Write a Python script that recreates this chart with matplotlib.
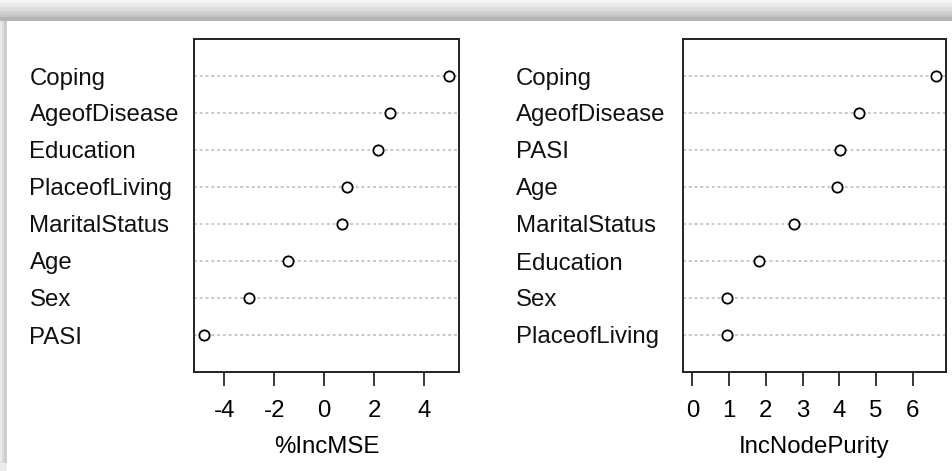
import matplotlib
matplotlib.use("Agg")
import matplotlib.pyplot as plt
from matplotlib.patches import Rectangle
from matplotlib.transforms import blended_transform_factory

# ---- data (top to bottom as shown) ----
mse_vars = ["Coping", "AgeofDisease", "Education", "PlaceofLiving",
            "MaritalStatus", "Age", "Sex", "PASI"]
mse_vals = [5.0, 2.64, 2.17, 0.92, 0.72, -1.45, -3.02, -4.82]
mse_ticks = [-4, -2, 0, 2, 4]
mse_xlabel = "%IncMSE"

purity_vars = ["Coping", "AgeofDisease", "PASI", "Age",
               "MaritalStatus", "Education", "Sex", "PlaceofLiving"]
purity_vals = [6.64, 4.53, 4.02, 3.95, 2.76, 1.82, 0.95, 0.95]
purity_ticks = [0, 1, 2, 3, 4, 5, 6]
purity_xlabel = "IncNodePurity"

W, H = 953, 471
plt.rcParams["font.family"] = ["Liberation Sans", "DejaVu Sans"]
FS = 17.3

fig = plt.figure(figsize=(W / 100, H / 100), dpi=100)
fig.patch.set_facecolor("white")

# ---- screenshot-style shadow frame ----
top_bands = [(0, 3, "#f4f4f4"), (3, 7, "#e9e9e9"), (7, 11, "#dddddd"),
             (11, 14, "#d1d1d1"), (14, 17, "#c6c6c6"), (17, 21, "#b4b4b4")]
for y0, y1, c in top_bands:
    fig.patches.append(Rectangle((0, 1 - y1 / H), 1, (y1 - y0) / H,
                                 transform=fig.transFigure, color=c, lw=0, zorder=0))
left_bands = [(0, 2, "#e8e8e8"), (2, 4, "#dcdcdc"), (4, 7, "#cdcdcd")]
for x0, x1, c in left_bands:
    fig.patches.append(Rectangle((x0 / W, 8 / H), (x1 - x0) / W, (H - 21 - 8) / H,
                                 transform=fig.transFigure, color=c, lw=0, zorder=0))
    fig.patches.append(Rectangle((x0 / W, 0), (x1 - x0) / W, 8 / H,
                                 transform=fig.transFigure, color="#ececec", lw=0, zorder=0))


def panel(rect, names, vals, ticks, xlabel, xlim, label_x_px):
    ax = fig.add_axes(rect)
    n = len(names)
    ys = [n - i for i in range(n)]
    for y in ys:
        ax.axhline(y, color="#c4c4c4", lw=1.3, linestyle=(0, (1.6, 1.6)), zorder=1)
    ax.plot(vals, ys, linestyle="none", marker="o", markersize=7.4,
            markerfacecolor="white", markeredgecolor="black",
            markeredgewidth=1.3, zorder=3)
    ax.set_xlim(*xlim)
    ax.set_ylim(0, n + 1)
    ax.set_yticks([])
    ax.set_xticks(ticks)
    ax.set_xticklabels([str(t) for t in ticks], fontsize=FS)
    ax.tick_params(axis="x", direction="out", length=10, width=1.1,
                   pad=10, color="black")
    for s in ax.spines.values():
        s.set_linewidth(1.4)
        s.set_color("#222222")
    ax.set_xlabel(xlabel, fontsize=FS, labelpad=10)
    tr = blended_transform_factory(fig.transFigure, ax.transData)
    for name, y in zip(names, ys):
        ax.text(label_x_px / W, y, name, transform=tr, ha="left",
                va="center_baseline", fontsize=FS, color="#111111", clip_on=False)
    return ax


def mse_lim(v):
    lo, hi = min(v), max(v)
    e = 0.04 * (hi - lo)
    return (lo - e, hi + e)


def pur_lim(v):
    hi = max(v)
    e = 0.04 * hi
    return (-e, hi + e)


panel([194 / W, (H - 372) / H, 265 / W, 333 / H], mse_vars, mse_vals,
      mse_ticks, mse_xlabel, mse_lim(mse_vals), 29.5)
panel([682.7 / W, (H - 372) / H, 263.3 / W, 333 / H], purity_vars, purity_vals,
      purity_ticks, purity_xlabel, pur_lim(purity_vals), 515.7)

fig.savefig("out.png", dpi=100, facecolor=fig.get_facecolor())
